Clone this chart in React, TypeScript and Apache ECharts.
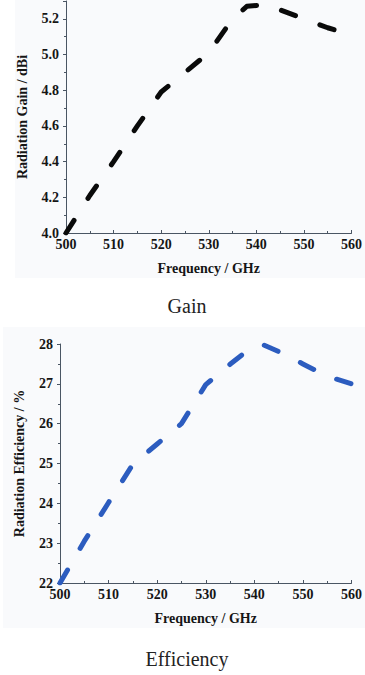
import React, { useEffect, useRef } from "react";
import * as echarts from "echarts";

const frequencyTicks = [500, 510, 520, 530, 540, 550, 560];

const gainFreq = [500, 505, 510, 515, 520, 525, 530, 535, 538, 542, 545, 550, 555, 560];
const gainValues = [4.0, 4.21, 4.4, 4.6, 4.79, 4.9, 5.01, 5.2, 5.27, 5.28, 5.25, 5.2, 5.15, 5.11];

const effFreq = [500, 505, 510, 515, 520, 525, 530, 535, 538, 542, 545, 550, 555, 560];
const effValues = [22.0, 23.05, 24.02, 24.98, 25.49, 26.0, 26.98, 27.49, 27.78, 27.97, 27.81, 27.5, 27.19, 27.0];

const captions = ["Gain", "Efficiency"];

const FONT = "'Liberation Serif', 'Times New Roman', serif";

export default function App() {
  const ref = useRef<HTMLDivElement>(null);

  useEffect(() => {
    if (!ref.current) return;
    const chart = echarts.init(ref.current, null, { renderer: "svg" });

    const axisColor = "#4a5563";
    const labelStyle = {
      fontFamily: FONT,
      fontWeight: "bold" as const,
      fontSize: 14,
      color: "#151515",
    };

    const xAxisBase = (gridIndex: number) => ({
      type: "value" as const,
      gridIndex,
      min: frequencyTicks[0],
      max: frequencyTicks[frequencyTicks.length - 1],
      interval: 10,
      name: "Frequency / GHz",
      nameLocation: "middle" as const,
      nameGap: 28,
      nameTextStyle: labelStyle,
      axisLine: { show: true, lineStyle: { color: axisColor, width: 1 } },
      axisTick: { show: true, inside: true, length: 3, lineStyle: { color: axisColor } },
      minorTick: { show: true, splitNumber: 2, length: 2, lineStyle: { color: axisColor } },
      axisLabel: { ...labelStyle, margin: 4 },
      splitLine: { show: false },
    });

    chart.setOption({
      animation: false,
      backgroundColor: "#ffffff",
      graphic: [
        {
          type: "rect",
          z: -10,
          silent: true,
          shape: { x: 15, y: 0, width: 350, height: 278 },
          style: { fill: "#f9fafc" },
        },
        {
          type: "rect",
          z: -10,
          silent: true,
          shape: { x: 3, y: 327, width: 362, height: 301 },
          style: { fill: "#f9fafc" },
        },
        {
          type: "text",
          x: 187,
          y: 306,
          style: {
            text: captions[0],
            font: `20px ${FONT}`,
            fill: "#222222",
            textAlign: "center",
            textVerticalAlign: "middle",
          },
        },
        {
          type: "text",
          x: 187,
          y: 659,
          style: {
            text: captions[1],
            font: `20px ${FONT}`,
            fill: "#222222",
            textAlign: "center",
            textVerticalAlign: "middle",
          },
        },
      ],
      grid: [
        { left: 66, top: 1, width: 286, height: 232 },
        { left: 60, top: 344, width: 293, height: 239 },
      ],
      xAxis: [xAxisBase(0), xAxisBase(1)],
      yAxis: [
        {
          type: "value",
          gridIndex: 0,
          min: 4.0,
          max: 5.3,
          interval: 0.2,
          name: "Radiation Gain / dBi",
          nameLocation: "middle",
          nameGap: 37,
          nameTextStyle: labelStyle,
          axisLine: { show: true, lineStyle: { color: axisColor, width: 1 } },
          axisTick: { show: true, inside: false, length: 3, lineStyle: { color: axisColor } },
          minorTick: { show: true, splitNumber: 2, length: 2, lineStyle: { color: axisColor } },
          axisLabel: {
            ...labelStyle,
            margin: 7,
            showMaxLabel: false,
            formatter: (v: number) => v.toFixed(1),
          },
          splitLine: { show: false },
        },
        {
          type: "value",
          gridIndex: 1,
          min: 22,
          max: 28,
          interval: 1,
          name: "Radiation Efficiency / %",
          nameLocation: "middle",
          nameGap: 34,
          nameTextStyle: labelStyle,
          axisLine: { show: true, lineStyle: { color: axisColor, width: 1 } },
          axisTick: { show: true, inside: false, length: 3, lineStyle: { color: axisColor } },
          minorTick: { show: true, splitNumber: 2, length: 2, lineStyle: { color: axisColor } },
          axisLabel: { ...labelStyle, margin: 7 },
          splitLine: { show: false },
        },
      ],
      series: [
        {
          type: "line",
          xAxisIndex: 0,
          yAxisIndex: 0,
          data: gainFreq.map((f, i) => [f, gainValues[i]]),
          showSymbol: false,
          silent: true,
          lineStyle: { color: "#0a0a0a", width: 5, type: [15, 26], cap: "round", join: "round" },
        },
        {
          type: "line",
          xAxisIndex: 1,
          yAxisIndex: 1,
          data: effFreq.map((f, i) => [f, effValues[i]]),
          showSymbol: false,
          silent: true,
          lineStyle: { color: "#2c5cbf", width: 5, type: [15, 25], cap: "round", join: "round" },
        },
      ],
    });

    return () => chart.dispose();
  }, []);

  return (
    <div
      ref={ref}
      style={{ position: "fixed", left: 0, top: 0, width: 365, height: 675 }}
    />
  );
}
